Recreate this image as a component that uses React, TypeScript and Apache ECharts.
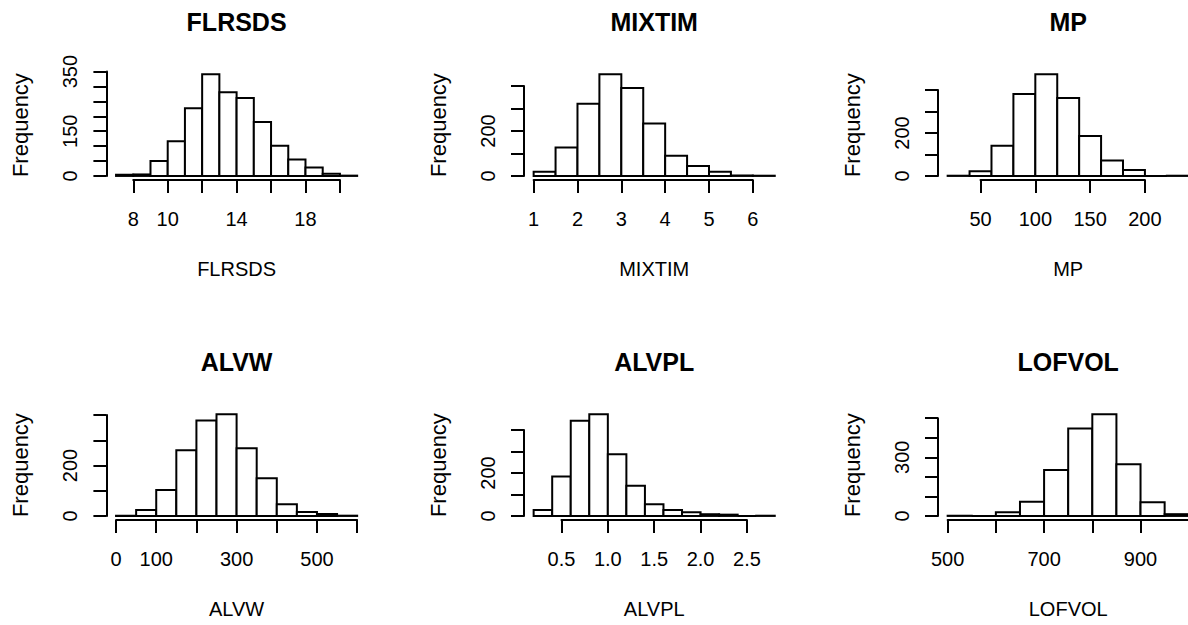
import React, { useEffect, useRef } from "react";
import * as echarts from "echarts";

// ---- Data ----
const FLRSDS_BREAKS = [7, 8, 9, 10, 11, 12, 13, 14, 15, 16, 17, 18, 19, 20, 21];
const FLRSDS_COUNTS = [4, 5, 50, 116, 227, 341, 281, 261, 181, 101, 55, 28, 7, 1];
const FLRSDS_XTICKS = [8, 10, 12, 14, 16, 18, 20];
const FLRSDS_XLABELS = [8, 10, 14, 18];
const FLRSDS_YTICKS = [0, 50, 100, 150, 200, 250, 300, 350];
const FLRSDS_YLABELS = [0, 150, 350];

const MIXTIM_BREAKS = [1, 1.5, 2, 2.5, 3, 3.5, 4, 4.5, 5, 5.5, 6, 6.5];
const MIXTIM_COUNTS = [19, 126, 321, 452, 391, 233, 90, 44, 19, 2, 1];
const MIXTIM_XTICKS = [1, 2, 3, 4, 5, 6];
const MIXTIM_XLABELS = [1, 2, 3, 4, 5, 6];
const MIXTIM_YTICKS = [0, 100, 200, 300, 400];
const MIXTIM_YLABELS = [0, 200];

const MP_BREAKS = [20, 40, 60, 80, 100, 120, 140, 160, 180, 200, 220, 240];
const MP_COUNTS = [1, 22, 140, 381, 473, 363, 186, 72, 28, 0, 1];
const MP_XTICKS = [50, 100, 150, 200];
const MP_XLABELS = [50, 100, 150, 200];
const MP_YTICKS = [0, 100, 200, 300, 400];
const MP_YLABELS = [0, 200];

const ALVW_BREAKS = [0, 50, 100, 150, 200, 250, 300, 350, 400, 450, 500, 550, 600];
const ALVW_COUNTS = [1, 24, 103, 260, 378, 403, 268, 149, 46, 16, 8, 1];
const ALVW_XTICKS = [0, 100, 200, 300, 400, 500, 600];
const ALVW_XLABELS = [0, 100, 300, 500];
const ALVW_YTICKS = [0, 100, 200, 300, 400];
const ALVW_YLABELS = [0, 200];

const ALVPL_BREAKS = [0.2, 0.4, 0.6, 0.8, 1.0, 1.2, 1.4, 1.6, 1.8, 2.0, 2.2, 2.4, 2.6, 2.8];
const ALVPL_COUNTS = [28, 183, 443, 473, 287, 140, 54, 28, 17, 8, 6, 0, 1];
const ALVPL_XTICKS = [0.5, 1.0, 1.5, 2.0, 2.5];
const ALVPL_XLABELS = [0.5, 1.0, 1.5, 2.0, 2.5];
const ALVPL_YTICKS = [0, 100, 200, 300, 400];
const ALVPL_YLABELS = [0, 200];

const LOFVOL_BREAKS = [500, 550, 600, 650, 700, 750, 800, 850, 900, 950, 1000];
const LOFVOL_COUNTS = [1, 0, 19, 72, 235, 447, 520, 264, 70, 9];
const LOFVOL_XTICKS = [500, 600, 700, 800, 900, 1000];
const LOFVOL_XLABELS = [500, 700, 900];
const LOFVOL_YTICKS = [0, 100, 200, 300, 400, 500];
const LOFVOL_YLABELS = [0, 300];

const PANELS = [
  { name: "FLRSDS", breaks: FLRSDS_BREAKS, counts: FLRSDS_COUNTS, xTicks: FLRSDS_XTICKS, xLabels: FLRSDS_XLABELS, yTicks: FLRSDS_YTICKS, yLabels: FLRSDS_YLABELS },
  { name: "MIXTIM", breaks: MIXTIM_BREAKS, counts: MIXTIM_COUNTS, xTicks: MIXTIM_XTICKS, xLabels: MIXTIM_XLABELS, yTicks: MIXTIM_YTICKS, yLabels: MIXTIM_YLABELS },
  { name: "MP", breaks: MP_BREAKS, counts: MP_COUNTS, xTicks: MP_XTICKS, xLabels: MP_XLABELS, yTicks: MP_YTICKS, yLabels: MP_YLABELS },
  { name: "ALVW", breaks: ALVW_BREAKS, counts: ALVW_COUNTS, xTicks: ALVW_XTICKS, xLabels: ALVW_XLABELS, yTicks: ALVW_YTICKS, yLabels: ALVW_YLABELS },
  { name: "ALVPL", breaks: ALVPL_BREAKS, counts: ALVPL_COUNTS, xTicks: ALVPL_XTICKS, xLabels: ALVPL_XLABELS, yTicks: ALVPL_YTICKS, yLabels: ALVPL_YLABELS },
  { name: "LOFVOL", breaks: LOFVOL_BREAKS, counts: LOFVOL_COUNTS, xTicks: LOFVOL_XTICKS, xLabels: LOFVOL_XLABELS, yTicks: LOFVOL_YTICKS, yLabels: LOFVOL_YLABELS },
];

// ---- Layout (plot regions, like R's mfrow = c(2, 3)) ----
const COL_LEFT = [106.4, 524, 938];
const PLOT_W = 260.4;
const ROW_TOP = [70.2, 410.2];
const ROW_BOTTOM = [180, 520];
const FONT = "'Liberation Sans', Arial, sans-serif";
const TICK_FONT = 20;
const LAB_FONT = 20;
const YLAB_FONT = 22;
const TITLE_FONT = 25;
const LW = 2;

function fmt(v: number, step: number) {
  return step < 1 ? v.toFixed(1) : String(Math.round(v));
}

function buildOption() {
  const grid: any[] = [];
  const xAxis: any[] = [];
  const yAxis: any[] = [];
  const series: any[] = [];
  const graphic: any[] = [];

  PANELS.forEach((p, i) => {
    const col = i % 3;
    const row = Math.floor(i / 3);
    const left = COL_LEFT[col];
    const top = ROW_TOP[row];
    const bottom = ROW_BOTTOM[row];
    const plotH = bottom - top;

    const lo = p.breaks[0];
    const hi = p.breaks[p.breaks.length - 1];
    const range = hi - lo;
    const xmin = lo - 0.04 * range;
    const sx = PLOT_W / (1.08 * range);
    const ymax = Math.max(...p.counts);
    const sy = plotH / (1.08 * ymax);
    const y0 = bottom - 0.04 * ymax * sy;

    const xt0 = p.xTicks[0];
    const xtN = p.xTicks[p.xTicks.length - 1];
    const xStep = p.xTicks[1] - p.xTicks[0];
    const ytN = p.yTicks[p.yTicks.length - 1];
    const yStep = p.yTicks[1] - p.yTicks[0];

    const gLeft = left + (xt0 - xmin) * sx;
    const gWidth = (xtN - xt0) * sx;
    const gTop = y0 - ytN * sy;
    const gHeight = ytN * sy;

    grid.push({ left: gLeft, top: gTop, width: gWidth, height: gHeight, outerBoundsMode: "none", containLabel: false });

    const xl = p.xLabels;
    const yl = p.yLabels;
    xAxis.push({
      type: "value",
      gridIndex: i,
      min: xt0,
      max: xtN,
      interval: xStep,
      position: "bottom",
      offset: bottom - y0,
      splitLine: { show: false },
      axisLine: { show: true, onZero: false, lineStyle: { color: "#000", width: LW } },
      axisTick: { show: true, length: 13, inside: false, lineStyle: { color: "#000", width: LW } },
      axisLabel: {
        show: true,
        margin: 29,
        color: "#000",
        fontSize: TICK_FONT,
        fontFamily: FONT,
        showMinLabel: true,
        showMaxLabel: true,
        formatter: (v: number) => (xl.some((t) => Math.abs(t - v) < 1e-9) ? fmt(v, xStep) : ""),
      },
    });
    yAxis.push({
      type: "value",
      gridIndex: i,
      min: 0,
      max: ytN,
      interval: yStep,
      position: "left",
      offset: gLeft - left,
      splitLine: { show: false },
      axisLine: { show: true, onZero: false, lineStyle: { color: "#000", width: LW } },
      axisTick: { show: true, length: 13, inside: false, lineStyle: { color: "#000", width: LW } },
      axisLabel: {
        show: true,
        rotate: 90,
        margin: 26,
        color: "#000",
        fontSize: TICK_FONT,
        fontFamily: FONT,
        showMinLabel: true,
        showMaxLabel: true,
        formatter: (v: number) => (yl.some((t) => Math.abs(t - v) < 1e-9) ? String(v) : ""),
      },
    });

    const data = p.counts.map((c, k) => [p.breaks[k], p.breaks[k + 1], c]);
    series.push({
      type: "custom",
      xAxisIndex: i,
      yAxisIndex: i,
      clip: false,
      silent: true,
      encode: { x: [0, 1], y: 2 },
      data,
      renderItem: (params: any, api: any) => {
        const a = api.coord([api.value(0), api.value(2)]);
        const b = api.coord([api.value(1), 0]);
        return {
          type: "rect",
          shape: { x: a[0], y: a[1], width: b[0] - a[0], height: b[1] - a[1] },
          style: { fill: "#fff", stroke: "#000", lineWidth: LW },
        };
      },
    });

    const cx = left + PLOT_W / 2;
    graphic.push({
      type: "text",
      x: cx,
      y: top - 48.5,
      style: { text: p.name, fontSize: TITLE_FONT, fontWeight: "bold", fontFamily: FONT, fill: "#000", textAlign: "center", textVerticalAlign: "middle" },
    });
    graphic.push({
      type: "text",
      x: cx,
      y: bottom + 89,
      style: { text: p.name, fontSize: LAB_FONT, fontFamily: FONT, fill: "#000", textAlign: "center", textVerticalAlign: "middle" },
    });
    graphic.push({
      type: "text",
      x: left - 85.5,
      y: (top + bottom) / 2,
      rotation: Math.PI / 2,
      style: { text: "Frequency", fontSize: YLAB_FONT, fontFamily: FONT, fill: "#000", textAlign: "center", textVerticalAlign: "middle" },
    });
  });

  return {
    animation: false,
    backgroundColor: "#fff",
    grid,
    xAxis,
    yAxis,
    series,
    graphic,
  };
}

export default function App() {
  const ref = useRef<HTMLDivElement>(null);
  useEffect(() => {
    if (!ref.current) return;
    const chart = echarts.init(ref.current, undefined, { renderer: "svg" });
    chart.setOption(buildOption() as any);
    return () => chart.dispose();
  }, []);
  return <div ref={ref} style={{ position: "fixed", left: 0, top: 0, width: 1188, height: 625, background: "#fff" }} />;
}
